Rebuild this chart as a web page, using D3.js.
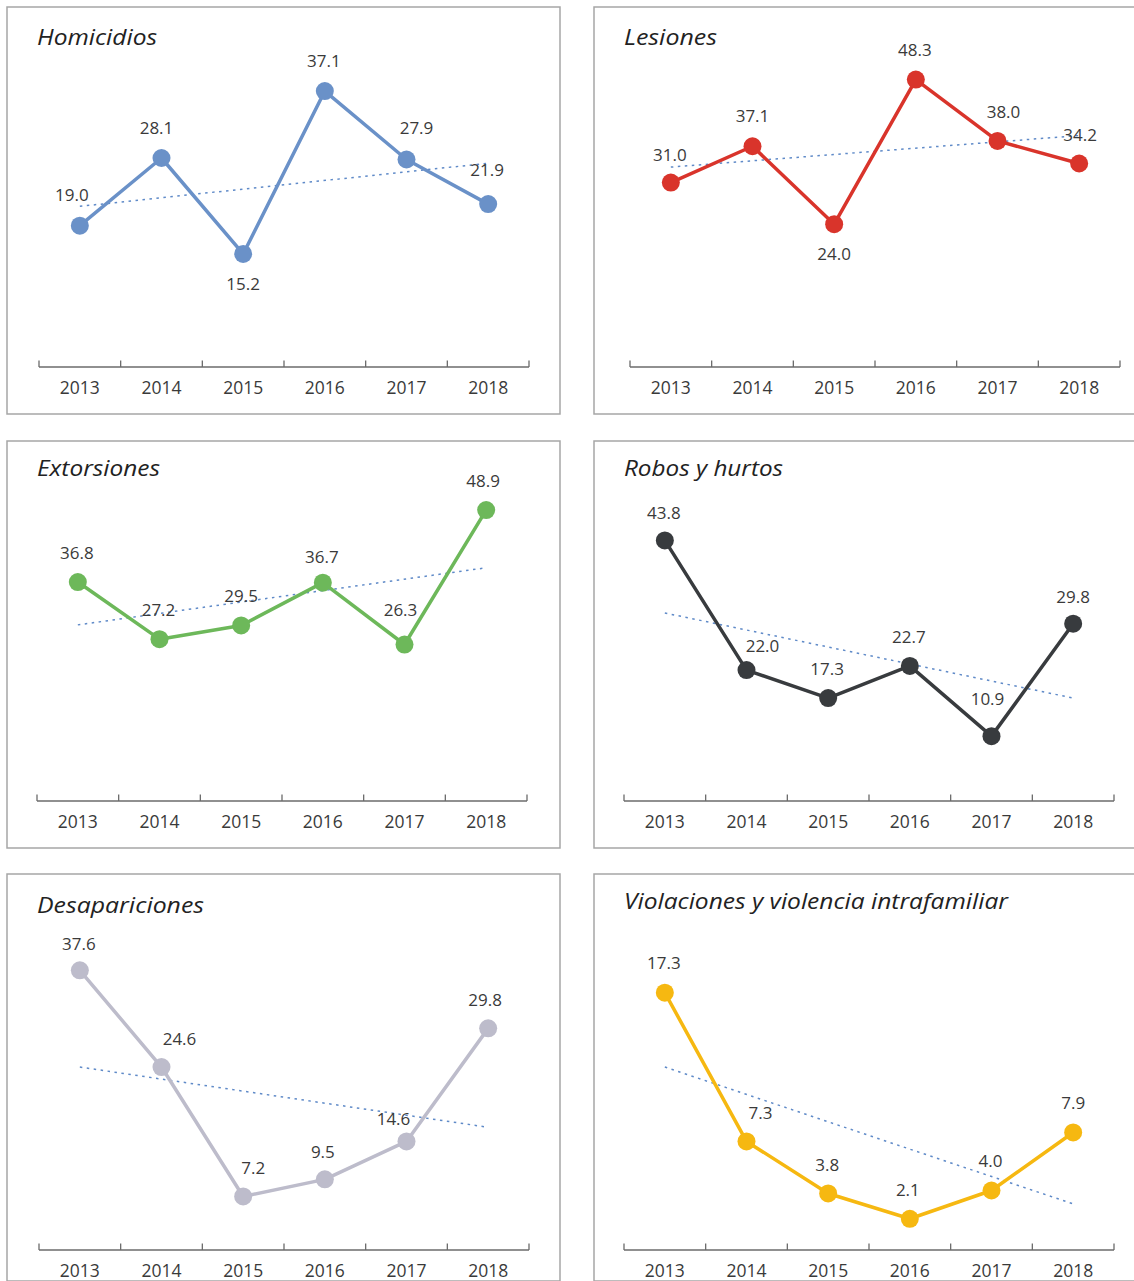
<!DOCTYPE html>
<html>
<head>
<meta charset="utf-8">
<script src="https://cdn.jsdelivr.net/npm/d3@7"></script>
<style>
  html, body { margin: 0; padding: 0; background: #fff; }
  svg { display: block; }
</style>
</head>
<body>
<svg id="chart" width="1134" height="1281"></svg>
<script>
// ---------------- DATA ----------------
const years = ["2013", "2014", "2015", "2016", "2017", "2018"];
const titles = ["Homicidios", "Lesiones", "Extorsiones", "Robos y hurtos", "Desapariciones", "Violaciones y violencia intrafamiliar"];
const homicidios    = [19.0, 28.1, 15.2, 37.1, 27.9, 21.9];
const lesiones      = [31.0, 37.1, 24.0, 48.3, 38.0, 34.2];
const extorsiones   = [36.8, 27.2, 29.5, 36.7, 26.3, 48.9];
const robos         = [43.8, 22.0, 17.3, 22.7, 10.9, 29.8];
const desapariciones= [37.6, 24.6, 7.2, 9.5, 14.6, 29.8];
const violaciones   = [17.3, 7.3, 3.8, 2.1, 4.0, 7.9];
const yMaxes = [40, 50, 50, 50, 40, 20];
// trend line end values at 2013 and 2018
const trendStart = [21.6, 33.6, 29.6, 31.6, 24.6, 12.3];
const trendEnd   = [27.4, 38.9, 39.2, 17.3, 16.5, 3.1];

const seriesList = [homicidios, lesiones, extorsiones, robos, desapariciones, violaciones];

// ---------------- LAYOUT / STYLE ----------------
const colors = ["#6a91c8", "#d9342b", "#6db85a", "#383b3e", "#bdbccb", "#f6b811"];
const panels = [
  { x: 7,   y: 7,   ax: 39,  ay: 367,  tx: 37,  ty: 45,  tw: 120 },
  { x: 594, y: 7,   ax: 630, ay: 367,  tx: 624, ty: 45,  tw: 93 },
  { x: 7,   y: 441, ax: 37,  ay: 801,  tx: 37,  ty: 476, tw: 123 },
  { x: 594, y: 441, ax: 624, ay: 801,  tx: 624, ty: 476, tw: 159 },
  { x: 7,   y: 874, ax: 39,  ay: 1250, tx: 37,  ty: 913, tw: 167 },
  { x: 594, y: 874, ax: 624, ay: 1250, tx: 624, ty: 909, tw: 384 }
];
const panelW = 553, panelH = 407, axisW = 490, plotH = 297.5;
// label offsets [dx, dy] relative to point (dy = label centre offset)
const labelOffsets = [
  [[-8,-31],[-5,-30],[0,30],[-1,-30],[10,-31],[-1,-34]],
  [[-1,-28],[0,-30],[0,30],[-1,-30],[6,-29],[1,-28]],
  [[-1,-29],[-1,-29],[0,-29],[-1,-26],[-4,-34],[-3,-29]],
  [[-1,-27],[16,-24],[-1,-29],[-1,-29],[-4,-37],[0,-27]],
  [[-1,-26],[18,-28],[10,-28],[-2,-27],[-13,-22],[-3,-28]],
  [[-1,-30],[14,-28],[-1,-28],[-2,-29],[-1,-29],[0,-29]]
];

const svg = d3.select("#chart");
const numFont = "'Open Sans', 'Noto Sans', sans-serif";

panels.forEach((p, i) => {
  const g = svg.append("g");
  const data = seriesList[i];

  g.append("rect")
    .attr("x", p.x).attr("y", p.y)
    .attr("width", panelW).attr("height", panelH)
    .attr("fill", "#fff")
    .attr("stroke", "#a6a6a6").attr("stroke-width", 1.5);

  g.append("text")
    .attr("x", p.tx).attr("y", p.ty)
    .attr("font-family", "'Open Sans', Lato, sans-serif")
    .attr("font-style", "italic")
    .attr("font-size", 22)
    .attr("fill", "#222")
    .attr("textLength", p.tw)
    .attr("lengthAdjust", "spacingAndGlyphs")
    .text(titles[i]);

  const x = d3.scaleBand().domain(years).range([p.ax, p.ax + axisW]).padding(0);
  const y = d3.scaleLinear().domain([0, yMaxes[i]]).range([p.ay, p.ay - plotH]);
  const cx = d => x(d) + x.bandwidth() / 2;

  // axis
  const axisG = g.append("g").attr("transform", `translate(0,${p.ay})`)
    .call(d3.axisBottom(x).tickSize(0).tickPadding(15));
  axisG.select(".domain").remove();
  axisG.selectAll("text")
    .attr("font-family", numFont).attr("font-size", 17.5).attr("fill", "#3a3a3a");
  g.append("line")
    .attr("x1", p.ax).attr("x2", p.ax + axisW)
    .attr("y1", p.ay).attr("y2", p.ay)
    .attr("stroke", "#6b6b6b").attr("stroke-width", 1.5);
  const edges = years.map(d => x(d)).concat([p.ax + axisW]);
  g.selectAll(".edge").data(edges).enter().append("line")
    .attr("x1", d => d).attr("x2", d => d)
    .attr("y1", p.ay).attr("y2", p.ay - 6.5)
    .attr("stroke", "#6b6b6b").attr("stroke-width", 1.3);

  // trend line
  g.append("line")
    .attr("x1", cx(years[0])).attr("y1", y(trendStart[i]))
    .attr("x2", cx(years[years.length - 1])).attr("y2", y(trendEnd[i]))
    .attr("stroke", "#5f8ac8").attr("stroke-width", 1.5)
    .attr("stroke-dasharray", "2.5,4.5");

  // series line
  const line = d3.line().x((d, j) => cx(years[j])).y(d => y(d));
  g.append("path").datum(data)
    .attr("d", line)
    .attr("fill", "none")
    .attr("stroke", colors[i]).attr("stroke-width", 3.5)
    .attr("stroke-linejoin", "round");

  g.selectAll(".pt").data(data).enter().append("circle")
    .attr("cx", (d, j) => cx(years[j]))
    .attr("cy", d => y(d))
    .attr("r", 9)
    .attr("fill", colors[i]);

  g.selectAll(".lbl").data(data).enter().append("text")
    .attr("x", (d, j) => cx(years[j]) + labelOffsets[i][j][0])
    .attr("y", (d, j) => y(d) + labelOffsets[i][j][1])
    .attr("dy", "0.35em")
    .attr("text-anchor", "middle")
    .attr("font-family", numFont).attr("font-size", 17)
    .attr("fill", "#3a3a3a")
    .text(d => d.toFixed(1));
});
</script>
</body>
</html>
